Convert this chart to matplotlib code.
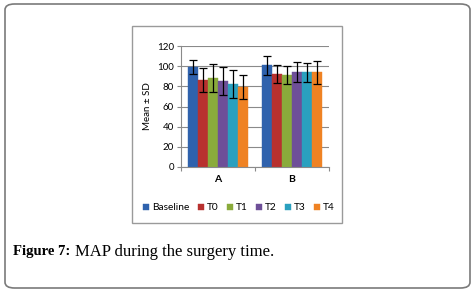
import numpy as np
import matplotlib
matplotlib.use('Agg')
import matplotlib.pyplot as plt
from matplotlib.patches import FancyBboxPatch, Rectangle

# Data
groups = ['A', 'B']
series = ['Baseline', 'T0', 'T1', 'T2', 'T3', 'T4']
means = {
    'Baseline': [99, 101],
    'T0': [86, 92],
    'T1': [88, 91],
    'T2': [85, 94],
    'T3': [82, 94],
    'T4': [79, 94],
}
sds = {
    'Baseline': [7, 9.5],
    'T0': [12, 9],
    'T1': [14, 9],
    'T2': [14, 10],
    'T3': [14, 9.5],
    'T4': [12, 11.5],
}
colors = ['#2f62ad', '#b8312f', '#8aab3b', '#6e4f98', '#2aa0bf', '#ef8223']
yticks = [0, 20, 40, 60, 80, 100, 120]

W, H = 476, 292
fig = plt.figure(figsize=(W / 100, H / 100), dpi=100)

# outer rounded frame
fig.patches.append(FancyBboxPatch((5 / W, 4 / H), 465 / W, 284 / H,
                                  boxstyle='round,pad=0,rounding_size=0.02',
                                  transform=fig.transFigure, fill=False,
                                  edgecolor='#7a7a7a', lw=1.2))
# chart frame
fig.patches.append(Rectangle((132 / W, 1 - 223 / H), 210 / W, 197 / H,
                             transform=fig.transFigure, fill=False,
                             edgecolor='#9a9a9a', lw=1))

ax = fig.add_axes([181 / W, 1 - 167 / H, 148 / W, 121 / H])
x = np.arange(len(groups))
n = len(series)
bw = 0.8 / n
for i, s in enumerate(series):
    pos = x - 0.4 + bw * (i + 0.5)
    ax.bar(pos, means[s], bw, color=colors[i], edgecolor=colors[i], lw=0.3,
           label=s, zorder=2)
    ax.errorbar(pos, means[s], yerr=sds[s], fmt='none', ecolor='black',
                elinewidth=0.9, capsize=3, capthick=0.9, zorder=3)

ax.set_xlim(-0.5, 1.5)
ax.set_ylim(0, 120)
ax.set_yticks(yticks)
ax.set_xticks([-0.5, 0.5, 1.5], minor=False)
ax.set_xticklabels([])
for g, xi in zip(groups, x):
    ax.text(xi, -12, g, ha='center', va='center', fontsize=7.5,
            fontweight='bold', fontfamily='Lato')
ax.tick_params(axis='y', labelsize=7, length=3, color='#8a8a8a', pad=2)
ax.tick_params(axis='x', length=3, color='#8a8a8a')
for lab in ax.get_yticklabels():
    lab.set_fontfamily('Lato')
ax.yaxis.grid(True, color='#8a8a8a', lw=0.8, zorder=0)
ax.set_axisbelow(True)
for sp in ['top', 'right']:
    ax.spines[sp].set_visible(False)
ax.spines['left'].set_color('#8a8a8a')
ax.spines['bottom'].set_color('#8a8a8a')
ax.set_ylabel('Mean \u00b1 SD', fontsize=7, fontfamily='Lato', labelpad=4)

fig.legend(loc='center', bbox_to_anchor=(239 / W, 1 - 208 / H), ncol=6,
           frameon=False, handlelength=0.6, handleheight=0.6,
           handletextpad=0.3, columnspacing=0.8, prop={'family': 'Lato', 'size': 7.3})

# caption: bold label then regular text right after it
fig.text(13 / W, 1 - 252 / H, 'Figure 7:', fontsize=10.5, fontweight='bold',
         fontfamily='Liberation Serif', va='center')
fig.text(75 / W, 1 - 252 / H, 'MAP during the surgery time.', fontsize=12,
         fontfamily='Liberation Serif', va='center')

fig.savefig('out.png', dpi=100)
